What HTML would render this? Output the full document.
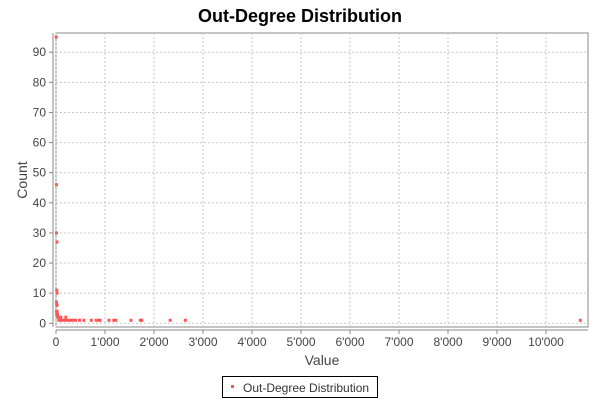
<!DOCTYPE html>
<html><head><meta charset="utf-8"><style>
body{margin:0;background:#fff;width:600px;height:400px;overflow:hidden}
text{font-family:"Liberation Sans",sans-serif}
</style></head><body>
<svg id="c" width="600" height="400" xmlns="http://www.w3.org/2000/svg">
<text x="300" y="22" text-anchor="middle" font-size="18" font-weight="bold" fill="#000">Out-Degree Distribution</text>
<rect x="56" y="33" width="532" height="294" fill="#fff" stroke="#888" stroke-width="1"/>
<g id="grid"></g>
<g id="axes"></g>
<g id="pts"></g>
<text x="27" y="180" text-anchor="middle" font-size="14" fill="#444" transform="rotate(-90 27 180)">Count</text>
<text x="322" y="365" text-anchor="middle" font-size="14" fill="#444">Value</text>
<g>
<rect x="222.5" y="376.5" width="155" height="21" fill="#fff" stroke="#000"/>
<rect x="231" y="385" width="3" height="3" fill="#ff5555"/>
<text x="243" y="392" font-size="12" fill="#333">Out-Degree Distribution</text>
</g>
</svg>
<script>
const xVals=[5,10,10,20,20,15,10,15,20,10,20,15,30,40,60,100,200,60,100,150,200,250,300,350,400,480,570,720,820,870,900,1080,1180,1220,1530,1720,1750,2330,2640,10700];
const yVals=[95,46,30,27,10,11,7,6,6,4,4,3,3,2,2,2,2,1,1,1,1,1,1,1,1,1,1,1,1,1,1,1,1,1,1,1,1,1,1,1];
const xTicks=[0,1000,2000,3000,4000,5000,6000,7000,8000,9000,10000];
const xTickLabels=["0","1'000","2'000","3'000","4'000","5'000","6'000","7'000","8'000","9'000","10'000"];
const yTicks=[0,10,20,30,40,50,60,70,80,90];
const NS="http://www.w3.org/2000/svg";
const X=v=>56+v*0.049;
const Y=v=>323.3-v*3.012;
function mk(t,a,p){const e=document.createElementNS(NS,t);for(const k in a)e.setAttribute(k,a[k]);p.appendChild(e);return e;}
const grid=document.getElementById('grid'),axes=document.getElementById('axes'),pts=document.getElementById('pts');
xTicks.forEach((v,i)=>{
  const g=mk('line',{x1:X(v),x2:X(v),y1:33,y2:327,stroke:'#c8c8c8','stroke-dasharray':'2,2'},grid);
  
  
  const t=mk('line',{x1:X(v),x2:X(v),y1:330,y2:334,stroke:'#888'},axes);
  
  
  const l=mk('text',{x:X(v),y:346,'text-anchor':'middle','font-size':'12',fill:'#444'},axes);
  l.textContent=xTickLabels[i];
  
  
});
yTicks.forEach(v=>{
  const g=mk('line',{x1:56,x2:588,y1:Y(v),y2:Y(v),stroke:'#c8c8c8','stroke-dasharray':'2,2'},grid);
  
  
  const t=mk('line',{x1:49,x2:53,y1:Y(v),y2:Y(v),stroke:'#888'},axes);
  
  
  const l=mk('text',{x:46,y:Y(v)+4,'text-anchor':'end','font-size':'12',fill:'#444'},axes);
  l.textContent=v;
  
  
});
const ya=mk('line',{x1:53,x2:53,y1:33,y2:327,stroke:'#888'},axes);


const xa=mk('line',{x1:56,x2:588,y1:330,y2:330,stroke:'#888'},axes);


xVals.forEach((v,i)=>{
  const p=mk('rect',{x:X(v)-1.5,y:Y(yVals[i])-1.5,width:3,height:3,fill:'#ff5555'},pts);
  
  
});
</script>
</body></html>
